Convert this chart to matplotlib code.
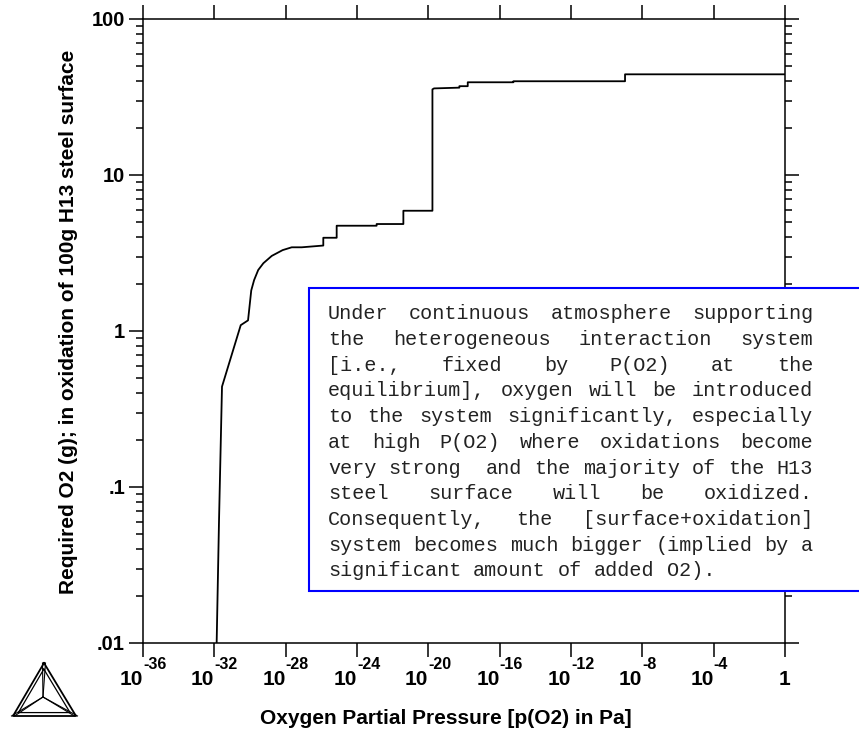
import re
import numpy as np
import matplotlib
matplotlib.use("Agg")
import matplotlib.pyplot as plt
from matplotlib.ticker import FixedLocator, FixedFormatter, NullLocator, LogLocator, NullFormatter
from matplotlib.patches import Rectangle
from matplotlib.lines import Line2D
from matplotlib.transforms import blended_transform_factory

plt.rcParams['font.family'] = ['Liberation Sans', 'DejaVu Sans']

# ---- data (log10 of oxygen partial pressure in Pa, required O2 in g) ----
log_p = [-31.87, -31.74, -31.57, -30.52, -30.11, -29.93, -29.77, -29.54, -29.25,
         -28.78, -28.17, -27.66, -27.10, -25.89, -25.89, -25.14, -25.14, -22.90,
         -22.90, -21.40, -21.40, -19.77, -19.77, -19.68, -18.26, -18.26, -17.79,
         -17.79, -15.23, -15.23, -8.97, -8.97, 0.0]
o2_required = [0.01, 0.059, 0.44, 1.09, 1.17, 1.82, 2.12, 2.46, 2.72,
               3.03, 3.30, 3.44, 3.44, 3.53, 3.96, 3.96, 4.73, 4.73,
               4.85, 4.85, 5.90, 5.90, 35.4, 35.9, 36.3, 37.1, 37.1,
               39.3, 39.3, 39.9, 39.9, 44.2, 44.2]

x_tick_exponents = [-36, -32, -28, -24, -20, -16, -12, -8, -4, 0]
x_tick_base = ['10', '10', '10', '10', '10', '10', '10', '10', '10', '1']
x_tick_sup = ['-36', '-32', '-28', '-24', '-20', '-16', '-12', '-8', '-4', '']
y_tick_values = [0.01, 0.1, 1, 10, 100]
y_tick_labels = ['.01', '.1', '1', '10', '100']

x_label = 'Oxygen Partial Pressure [p(O2) in Pa]'
y_label = 'Required O2 (g); in oxidation of 100g H13 steel surface'

note_lines = [
    "Under continuous atmosphere supporting",
    "the heterogeneous interaction system",
    "[i.e., fixed by P(O2) at the",
    "equilibrium], oxygen will be introduced",
    "to the system significantly, especially",
    "at high P(O2) where oxidations become",
    "very strong  and the majority of the H13",
    "steel surface will be oxidized.",
    "Consequently, the [surface+oxidation]",
    "system becomes much bigger (implied by a",
    "significant amount of added O2).",
]

W, H = 859, 738
fig = plt.figure(figsize=(W / 100, H / 100), dpi=100)
L, R, T, B = 143, 785, 19, 643
ax = fig.add_axes([L / W, 1 - B / H, (R - L) / W, (B - T) / H])

ax.plot(10.0 ** np.array(log_p), o2_required, color='black', lw=1.3)
ax.set_xscale('log')
ax.set_yscale('log')
ax.set_xlim(1e-36, 1)
ax.set_ylim(0.01, 100)

xt = [10.0 ** e for e in x_tick_exponents]
ax.xaxis.set_major_locator(FixedLocator(xt))
ax.xaxis.set_major_formatter(NullFormatter())
ax.xaxis.set_minor_locator(NullLocator())
ax.yaxis.set_major_locator(FixedLocator(y_tick_values))
ax.yaxis.set_major_formatter(FixedFormatter(y_tick_labels))
ax.yaxis.set_minor_locator(LogLocator(base=10, subs=np.arange(2, 10), numticks=50))
ax.yaxis.set_minor_formatter(NullFormatter())

for sp in ax.spines.values():
    sp.set_linewidth(1.1)
ax.tick_params(which='major', direction='out', length=10, width=1.1,
               top=True, right=True, labeltop=False, labelright=False)
ax.tick_params(axis='y', which='major', pad=3, labelsize=14.5)
ax.tick_params(axis='y', which='minor', direction='out', length=5, width=1.1,
               left=True, right=True)
for lab in ax.get_yticklabels():
    lab.set_fontweight('bold')

# x tick labels: base and superscript drawn as text at the tick positions
trans = blended_transform_factory(ax.transData, fig.transFigure)
for xv, b, s in zip(xt, x_tick_base, x_tick_sup):
    if s:
        ax.text(xv, 1 - 685 / H, b, transform=trans, ha='right', va='baseline',
                fontsize=15, fontweight='bold', clip_on=False)
        ax.text(xv, 1 - 669 / H, s, transform=trans, ha='left', va='baseline',
                fontsize=11.5, fontweight='bold', clip_on=False)
    else:
        ax.text(xv, 1 - 685 / H, b, transform=trans, ha='center', va='baseline',
                fontsize=15, fontweight='bold', clip_on=False)

fig.text(446 / W, 1 - 718 / H, x_label, ha='center', va='center',
         fontsize=15, fontweight='bold')
fig.text(69 / W, 1 - 322 / H, y_label, ha='center', va='center',
         rotation=90, fontsize=15, fontweight='bold')

# ---- annotation box ----
box = Rectangle((309 / W, 1 - 591 / H), (880 - 309) / W, (591 - 288) / H,
                transform=fig.transFigure, facecolor='white', edgecolor='#0000ff',
                lw=1.5, zorder=5)
fig.add_artist(box)

cw = 12.1
x0, x1 = 328, 813
base0, dy = 319.3, 25.7
for i, line in enumerate(note_lines):
    yb = base0 + dy * i
    tokens = re.split(r'( +)', line)
    ngaps = sum(1 for t in tokens if t.startswith(' '))
    justify = i < len(note_lines) - 1 and ngaps > 0
    extra = ((x1 - x0) - len(line) * cw) / ngaps if justify else 0
    pos = 0
    g = 0
    for t in tokens:
        if t == '':
            continue
        if t.startswith(' '):
            pos += len(t)
            g += 1
            continue
        xp = x0 + pos * cw + extra * g
        fig.text(xp / W, 1 - yb / H, t, ha='left', va='baseline',
                 family='Liberation Mono', fontsize=14.5, zorder=6, color='#222222')
        pos += len(t)

# ---- logo ----
def P(x, y):
    return x / W, 1 - y / H

A, Bv, C, O = (44, 663), (13, 716), (76, 716), (43, 697)
def tri(pts, lw):
    xs = [P(*p)[0] for p in pts] + [P(*pts[0])[0]]
    ys = [P(*p)[1] for p in pts] + [P(*pts[0])[1]]
    fig.add_artist(Line2D(xs, ys, transform=fig.transFigure, color='black', lw=lw))

tri([A, Bv, C], 1.3)
inner = [(O[0] + 0.82 * (p[0] - O[0]), O[1] + 0.82 * (p[1] - O[1])) for p in [A, Bv, C]]
tri(inner, 0.9)
for p in [A, Bv, C]:
    for dx in (-1.5, 1.5):
        fig.add_artist(Line2D([P(*O)[0], P(p[0] + dx, p[1])[0]],
                              [P(*O)[1], P(p[0] + dx, p[1])[1]],
                              transform=fig.transFigure, color='black', lw=0.8))

fig.savefig('out.png', dpi=100)
